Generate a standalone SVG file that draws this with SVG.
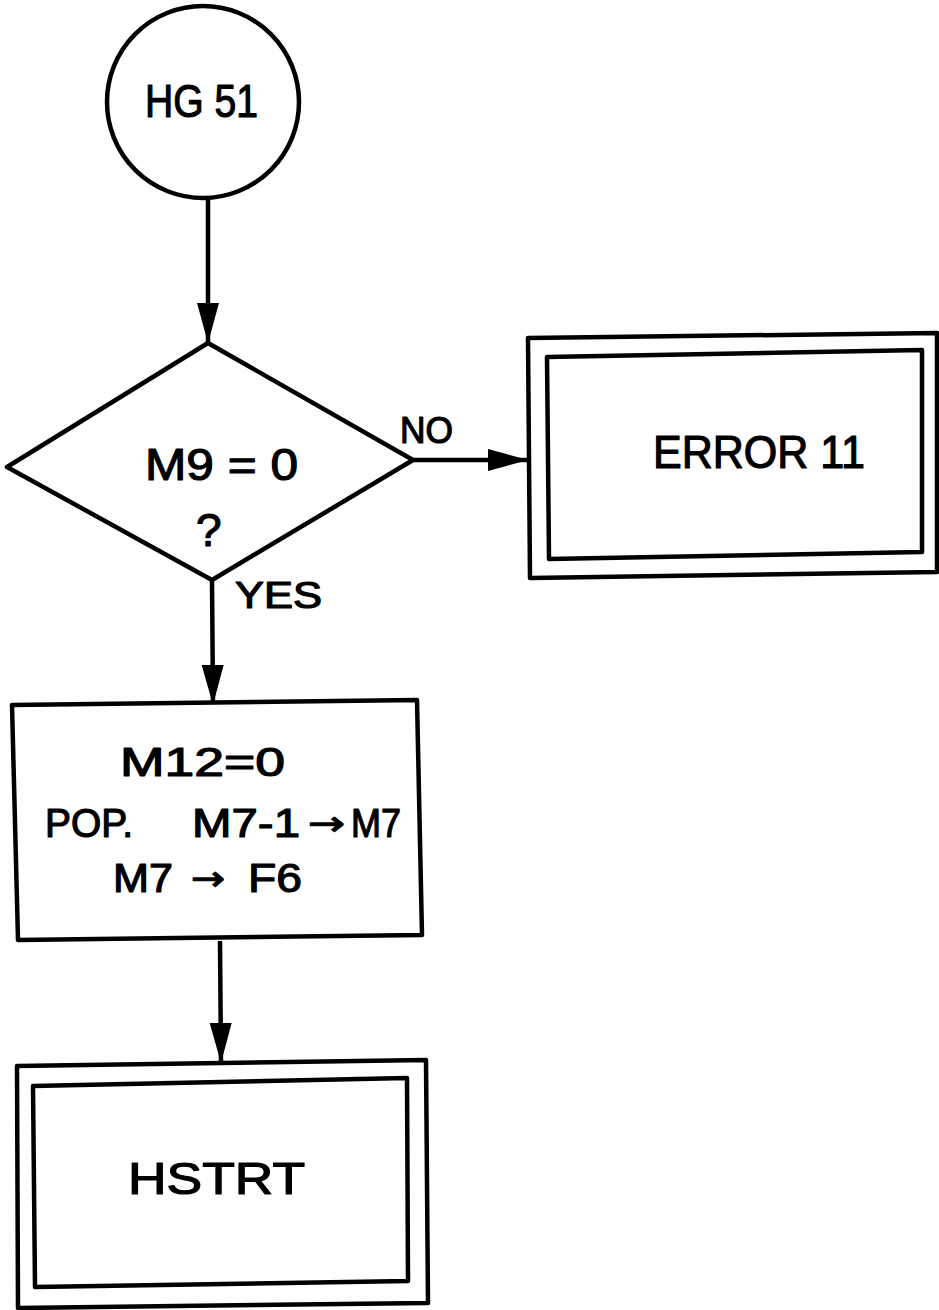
<svg xmlns="http://www.w3.org/2000/svg" width="939" height="1310" viewBox="0 0 939 1310">
  <style>
    .shape { fill: #fff; stroke: #000; stroke-width: 4.5; stroke-linejoin: round; }
    .edge { fill: none; stroke: #000; stroke-width: 4.5; marker-end: url(#head); }
    .lbl { font-family: "Liberation Sans", "DejaVu Sans", sans-serif; fill: #000; stroke: #000; stroke-width: 1.2; stroke-linejoin: round; }
    .arr { font-family: "DejaVu Sans", sans-serif; }
  </style>
  <defs>
    <marker id="head" markerUnits="userSpaceOnUse" markerWidth="40" markerHeight="24" viewBox="0 0 40 24" refX="39" refY="12" orient="auto">
      <path d="M0,1 L40,12 L0,23 Z" fill="#000"/>
    </marker>
  </defs>

  <rect width="939" height="1310" fill="#fff"/>

  <!-- connectors -->
  <g id="connectors">
    <path class="edge" d="M208,199 L208,342"/>
    <path class="edge" d="M413,460 L527,460"/>
    <path class="edge" d="M212,580 L213,704"/>
    <path class="edge" d="M220,941 L221,1062"/>
  </g>

  <!-- entry connector -->
  <g id="hg51">
    <circle class="shape" cx="203" cy="102" r="96"/>
    <text class="lbl" x="145" y="117" font-size="46" textLength="113" lengthAdjust="spacingAndGlyphs" stroke-width="2">HG 51</text>
  </g>

  <!-- decision -->
  <g id="test-m9">
    <polygon class="shape" points="208,343 413,460 212,580 7,467"/>
    <text class="lbl" x="145" y="480" font-size="45" textLength="153" lengthAdjust="spacingAndGlyphs">M9 = 0</text>
    <text class="lbl" x="196" y="546" font-size="46">?</text>
    <text class="lbl" x="400" y="443" font-size="37" textLength="53" lengthAdjust="spacingAndGlyphs">NO</text>
    <text class="lbl" x="235" y="608" font-size="36" textLength="87" lengthAdjust="spacingAndGlyphs">YES</text>
  </g>

  <!-- error exit -->
  <g id="error11">
    <polygon class="shape" points="528,338 937,333 937,572 530,578"/>
    <polygon class="shape" points="547,357 922,350 922,552 549,559"/>
    <text class="lbl" x="653" y="468" font-size="46" textLength="212" lengthAdjust="spacingAndGlyphs">ERROR 11</text>
  </g>

  <!-- process -->
  <g id="pop-m7">
    <polygon class="shape" points="12,705 417,700 422,935 18,940"/>
    <text class="lbl" x="120" y="776" font-size="40" textLength="165" lengthAdjust="spacingAndGlyphs">M12=0</text>
    <text class="lbl" y="837" font-size="40"><tspan x="45" textLength="88" lengthAdjust="spacingAndGlyphs">POP.</tspan><tspan x="192" textLength="108" lengthAdjust="spacingAndGlyphs">M7-1</tspan><tspan class="arr" x="308" textLength="37" lengthAdjust="spacingAndGlyphs" font-size="34" dy="-2">→</tspan><tspan x="351" dy="2" textLength="50" lengthAdjust="spacingAndGlyphs">M7</tspan></text>
    <text class="lbl" y="892" font-size="40"><tspan x="113" textLength="60" lengthAdjust="spacingAndGlyphs">M7</tspan><tspan class="arr" x="191" textLength="34" lengthAdjust="spacingAndGlyphs" font-size="34" dy="-2">→</tspan><tspan x="248" dy="2" textLength="54" lengthAdjust="spacingAndGlyphs">F6</tspan></text>
  </g>

  <!-- restart exit -->
  <g id="hstrt">
    <polygon class="shape" points="17,1066 426,1060 428,1303 18,1308"/>
    <polygon class="shape" points="33,1086 407,1078 408,1281 35,1287"/>
    <text class="lbl" x="128" y="1194" font-size="44" textLength="177" lengthAdjust="spacingAndGlyphs">HSTRT</text>
  </g>
</svg>
